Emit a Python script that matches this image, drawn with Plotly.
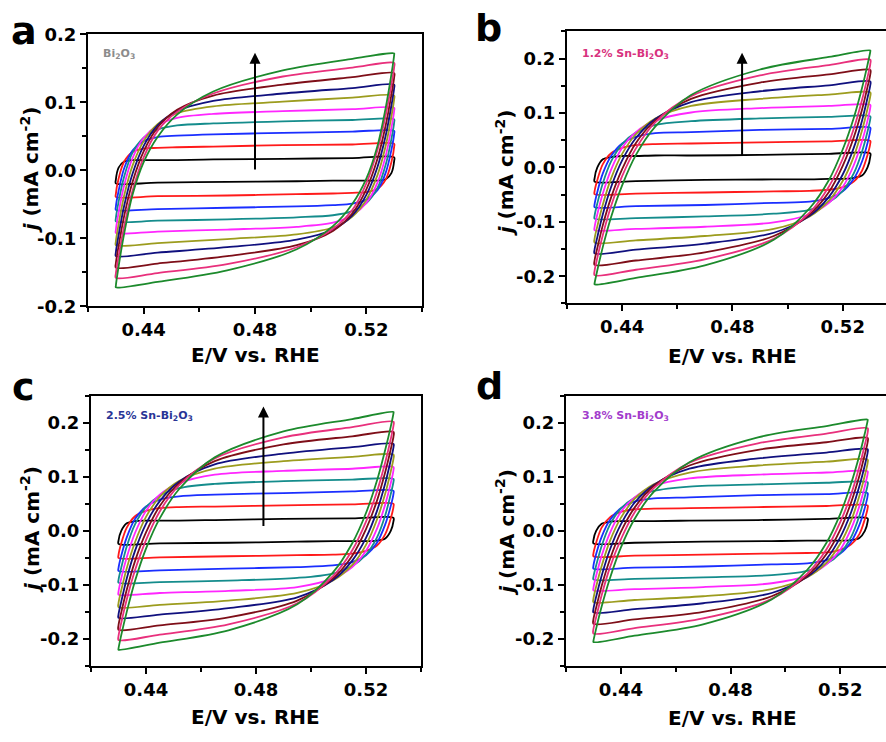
import plotly.graph_objects as go

# ---------------- data ----------------
X_FWD = [0.430, 0.431, 0.433, 0.436, 0.440, 0.445, 0.452, 0.465, 0.490, 0.515, 0.530]
X_REV = [0.530, 0.529, 0.527, 0.524, 0.520, 0.515, 0.508, 0.495, 0.470, 0.445, 0.430]

COLORS = ["#000000", "#ff1a1a", "#1a2eff", "#148c8c", "#ff26ff",
          "#9c9c1e", "#10107e", "#7e0e18", "#e8307c", "#1c8a2c"]

# panel a: Bi2O3  (forward = anodic sweep, reverse = cathodic sweep)
A_FWD = [
    [-0.014, 0.004, 0.013, 0.015, 0.015, 0.015, 0.015, 0.016, 0.017, 0.018, 0.019],
    [-0.035, -0.012, 0.013, 0.027, 0.032, 0.033, 0.034, 0.035, 0.037, 0.038, 0.039],
    [-0.054, -0.030, 0.003, 0.029, 0.043, 0.049, 0.051, 0.053, 0.055, 0.057, 0.058],
    [-0.071, -0.046, -0.009, 0.026, 0.048, 0.060, 0.066, 0.069, 0.072, 0.074, 0.075],
    [-0.088, -0.062, -0.022, 0.018, 0.048, 0.066, 0.077, 0.083, 0.087, 0.090, 0.092],
    [-0.105, -0.079, -0.037, 0.007, 0.043, 0.068, 0.084, 0.094, 0.101, 0.107, 0.110],
    [-0.121, -0.095, -0.052, -0.005, 0.036, 0.066, 0.087, 0.102, 0.113, 0.121, 0.126],
    [-0.137, -0.111, -0.067, -0.017, 0.028, 0.063, 0.089, 0.110, 0.126, 0.137, 0.143],
    [-0.152, -0.126, -0.082, -0.030, 0.019, 0.058, 0.086, 0.113, 0.138, 0.151, 0.158],
    [-0.170, -0.141, -0.093, -0.036, 0.012, 0.049, 0.082, 0.116, 0.147, 0.164, 0.172],
]
A_REV = [
    [0.014, -0.004, -0.013, -0.015, -0.015, -0.015, -0.015, -0.016, -0.017, -0.018, -0.019],
    [0.035, 0.012, -0.013, -0.027, -0.032, -0.033, -0.034, -0.035, -0.037, -0.038, -0.039],
    [0.054, 0.030, -0.003, -0.029, -0.043, -0.049, -0.051, -0.053, -0.055, -0.057, -0.058],
    [0.071, 0.046, 0.009, -0.026, -0.048, -0.060, -0.066, -0.069, -0.072, -0.074, -0.075],
    [0.088, 0.062, 0.022, -0.018, -0.048, -0.066, -0.077, -0.083, -0.087, -0.090, -0.092],
    [0.105, 0.079, 0.037, -0.007, -0.043, -0.068, -0.084, -0.094, -0.101, -0.107, -0.110],
    [0.121, 0.095, 0.052, 0.005, -0.036, -0.066, -0.087, -0.102, -0.113, -0.121, -0.126],
    [0.137, 0.111, 0.067, 0.017, -0.028, -0.063, -0.089, -0.110, -0.126, -0.137, -0.143],
    [0.152, 0.126, 0.082, 0.030, -0.019, -0.058, -0.086, -0.113, -0.138, -0.151, -0.158],
    [0.170, 0.141, 0.093, 0.036, -0.012, -0.049, -0.082, -0.116, -0.147, -0.164, -0.172],
]

# panel b: 1.2% Sn-Bi2O3
B_FWD = [
    [-0.020, 0.000, 0.015, 0.019, 0.021, 0.021, 0.022, 0.022, 0.023, 0.025, 0.026],
    [-0.044, -0.023, 0.006, 0.026, 0.036, 0.041, 0.043, 0.044, 0.046, 0.048, 0.049],
    [-0.068, -0.045, -0.011, 0.021, 0.044, 0.056, 0.063, 0.065, 0.069, 0.071, 0.073],
    [-0.089, -0.066, -0.029, 0.011, 0.043, 0.064, 0.078, 0.085, 0.090, 0.093, 0.094],
    [-0.110, -0.086, -0.048, -0.004, 0.036, 0.065, 0.086, 0.101, 0.109, 0.113, 0.115],
    [-0.131, -0.108, -0.068, -0.020, 0.025, 0.061, 0.090, 0.113, 0.126, 0.134, 0.138],
    [-0.151, -0.128, -0.086, -0.036, 0.013, 0.054, 0.089, 0.120, 0.140, 0.151, 0.158],
    [-0.171, -0.148, -0.106, -0.055, -0.003, 0.045, 0.086, 0.126, 0.156, 0.171, 0.179],
    [-0.190, -0.166, -0.124, -0.071, -0.016, 0.035, 0.083, 0.131, 0.169, 0.188, 0.198],
    [-0.213, -0.189, -0.146, -0.091, -0.033, 0.023, 0.075, 0.133, 0.180, 0.203, 0.215],
]
B_REV = [
    [0.020, 0.000, -0.015, -0.019, -0.021, -0.021, -0.022, -0.022, -0.023, -0.025, -0.026],
    [0.044, 0.023, -0.006, -0.026, -0.036, -0.041, -0.043, -0.044, -0.046, -0.048, -0.049],
    [0.068, 0.045, 0.011, -0.021, -0.044, -0.056, -0.063, -0.065, -0.069, -0.071, -0.073],
    [0.089, 0.066, 0.029, -0.011, -0.043, -0.064, -0.078, -0.085, -0.090, -0.093, -0.094],
    [0.110, 0.086, 0.048, 0.004, -0.036, -0.065, -0.086, -0.101, -0.109, -0.113, -0.115],
    [0.131, 0.108, 0.068, 0.020, -0.025, -0.061, -0.090, -0.113, -0.126, -0.134, -0.138],
    [0.151, 0.128, 0.086, 0.036, -0.013, -0.054, -0.089, -0.120, -0.140, -0.151, -0.158],
    [0.171, 0.148, 0.106, 0.055, 0.003, -0.045, -0.086, -0.126, -0.156, -0.171, -0.179],
    [0.190, 0.166, 0.124, 0.071, 0.016, -0.035, -0.083, -0.131, -0.169, -0.188, -0.198],
    [0.213, 0.189, 0.146, 0.091, 0.033, -0.023, -0.075, -0.133, -0.180, -0.203, -0.215],
]

# panel c: 2.5% Sn-Bi2O3
C_FWD = [
    [-0.018, 0.000, 0.014, 0.018, 0.019, 0.019, 0.019, 0.020, 0.022, 0.023, 0.024],
    [-0.045, -0.023, 0.006, 0.027, 0.037, 0.042, 0.044, 0.045, 0.047, 0.049, 0.050],
    [-0.069, -0.046, -0.012, 0.022, 0.045, 0.058, 0.064, 0.067, 0.070, 0.073, 0.074],
    [-0.091, -0.068, -0.029, 0.012, 0.044, 0.065, 0.079, 0.087, 0.092, 0.095, 0.096],
    [-0.113, -0.088, -0.049, -0.004, 0.037, 0.067, 0.088, 0.104, 0.111, 0.115, 0.118],
    [-0.134, -0.110, -0.069, -0.021, 0.026, 0.063, 0.092, 0.115, 0.129, 0.137, 0.141],
    [-0.155, -0.131, -0.088, -0.037, 0.013, 0.055, 0.091, 0.123, 0.143, 0.155, 0.161],
    [-0.175, -0.151, -0.109, -0.056, -0.003, 0.046, 0.088, 0.129, 0.160, 0.175, 0.183],
    [-0.195, -0.170, -0.127, -0.073, -0.017, 0.036, 0.084, 0.134, 0.173, 0.192, 0.202],
    [-0.218, -0.193, -0.150, -0.093, -0.033, 0.023, 0.077, 0.136, 0.184, 0.207, 0.220],
]
C_REV = [
    [0.018, 0.000, -0.014, -0.018, -0.019, -0.019, -0.019, -0.020, -0.022, -0.023, -0.024],
    [0.045, 0.023, -0.006, -0.027, -0.037, -0.042, -0.044, -0.045, -0.047, -0.049, -0.050],
    [0.069, 0.046, 0.012, -0.022, -0.045, -0.058, -0.064, -0.067, -0.070, -0.073, -0.074],
    [0.091, 0.068, 0.029, -0.012, -0.044, -0.065, -0.079, -0.087, -0.092, -0.095, -0.096],
    [0.113, 0.088, 0.049, 0.004, -0.037, -0.067, -0.088, -0.104, -0.111, -0.115, -0.118],
    [0.134, 0.110, 0.069, 0.021, -0.026, -0.063, -0.092, -0.115, -0.129, -0.137, -0.141],
    [0.155, 0.131, 0.088, 0.037, -0.013, -0.055, -0.091, -0.123, -0.143, -0.155, -0.161],
    [0.175, 0.151, 0.109, 0.056, 0.003, -0.046, -0.088, -0.129, -0.160, -0.175, -0.183],
    [0.195, 0.170, 0.127, 0.073, 0.017, -0.036, -0.084, -0.134, -0.173, -0.192, -0.202],
    [0.218, 0.193, 0.150, 0.093, 0.033, -0.023, -0.077, -0.136, -0.184, -0.207, -0.220],
]

# panel d: 3.8% Sn-Bi2O3
D_FWD = [
    [-0.017, 0.000, 0.013, 0.017, 0.018, 0.018, 0.018, 0.019, 0.020, 0.022, 0.023],
    [-0.042, -0.022, 0.006, 0.025, 0.035, 0.040, 0.041, 0.042, 0.044, 0.046, 0.047],
    [-0.065, -0.043, -0.011, 0.020, 0.042, 0.054, 0.060, 0.062, 0.066, 0.068, 0.070],
    [-0.085, -0.064, -0.028, 0.011, 0.041, 0.061, 0.074, 0.082, 0.086, 0.089, 0.090],
    [-0.106, -0.083, -0.046, -0.004, 0.035, 0.062, 0.083, 0.097, 0.104, 0.108, 0.110],
    [-0.126, -0.103, -0.065, -0.019, 0.024, 0.059, 0.086, 0.108, 0.121, 0.128, 0.132],
    [-0.145, -0.122, -0.083, -0.035, 0.012, 0.052, 0.085, 0.115, 0.134, 0.145, 0.151],
    [-0.164, -0.142, -0.102, -0.053, -0.002, 0.043, 0.083, 0.121, 0.150, 0.164, 0.172],
    [-0.182, -0.160, -0.119, -0.068, -0.016, 0.034, 0.079, 0.126, 0.162, 0.180, 0.190],
    [-0.204, -0.181, -0.140, -0.088, -0.031, 0.022, 0.072, 0.127, 0.173, 0.194, 0.206],
]
D_REV = [
    [0.017, 0.000, -0.013, -0.017, -0.018, -0.018, -0.018, -0.019, -0.020, -0.022, -0.023],
    [0.042, 0.022, -0.006, -0.025, -0.035, -0.040, -0.041, -0.042, -0.044, -0.046, -0.047],
    [0.065, 0.043, 0.011, -0.020, -0.042, -0.054, -0.060, -0.062, -0.066, -0.068, -0.070],
    [0.085, 0.064, 0.028, -0.011, -0.041, -0.061, -0.074, -0.082, -0.086, -0.089, -0.090],
    [0.106, 0.083, 0.046, 0.004, -0.035, -0.062, -0.083, -0.097, -0.104, -0.108, -0.110],
    [0.126, 0.103, 0.065, 0.019, -0.024, -0.059, -0.086, -0.108, -0.121, -0.128, -0.132],
    [0.145, 0.122, 0.083, 0.035, -0.012, -0.052, -0.085, -0.115, -0.134, -0.145, -0.151],
    [0.164, 0.142, 0.102, 0.053, 0.002, -0.043, -0.083, -0.121, -0.150, -0.164, -0.172],
    [0.182, 0.160, 0.119, 0.068, 0.016, -0.034, -0.079, -0.126, -0.162, -0.180, -0.190],
    [0.204, 0.181, 0.140, 0.088, 0.031, -0.022, -0.072, -0.127, -0.173, -0.194, -0.206],
]

PANEL_LETTERS = ["a", "b", "c", "d"]
SAMPLES = ["Bi<sub>2</sub>O<sub>3</sub>",
           "1.2% Sn-Bi<sub>2</sub>O<sub>3</sub>",
           "2.5% Sn-Bi<sub>2</sub>O<sub>3</sub>",
           "3.8% Sn-Bi<sub>2</sub>O<sub>3</sub>"]
SAMPLE_COLORS = ["#8c8c8c", "#d8327e", "#283496", "#a23ccc"]

X_TICKS = [0.44, 0.48, 0.52]
X_TICK_TEXT = ["0.44", "0.48", "0.52"]
X_MINOR = [0.42, 0.46, 0.50, 0.54]
Y_TICKS = [-0.2, -0.1, 0.0, 0.1, 0.2]
Y_TICK_TEXT = ["-0.2", "-0.1", "0.0", "0.1", "0.2"]
Y_MINOR = [-0.25, -0.15, -0.05, 0.05, 0.15, 0.25]

# arrows (panels a, b, c): x, start, end
ARROW_X = [0.480, 0.4835, 0.4827]
ARROW_Y0 = [-0.001, 0.020, 0.006]
ARROW_Y1 = [0.173, 0.211, 0.230]

X_TITLE = "E/V vs. RHE"
Y_TITLE = "<i>j</i> (mA cm<sup>-2</sup>)"

# ---------------- layout geometry (pixels) ----------------
W, H = 886, 742
FONT = "DejaVu Sans, Arial, sans-serif"

PANELS = [
    dict(px=(88, 422), py=(24, 304), xr=[0.42, 0.54], yr=[-0.2, 0.2], full=True),
    dict(px=(567, 886), py=(21, 301), xr=[0.42, 0.5357], yr=[-0.25, 0.25], full=False),
    dict(px=(91, 421), py=(396, 674), xr=[0.42, 0.54], yr=[-0.25, 0.25], full=True),
    dict(px=(566, 886), py=(396, 674), xr=[0.42, 0.5367], yr=[-0.25, 0.25], full=False),
]
LETTER_POS = [(24, 21), (488, 17), (23, 387), (489, 386)]
SAMPLE_POS = [(101, 44), (580, 44), (104, 417), (580, 417)]
XTITLE_POS = [(255, 354), (732, 355), (256, 727), (732, 728)]
YTITLE_POS = [(30, 164), (505, 166), (30, 534), (505, 536)]

DATA = [(A_FWD, A_REV), (B_FWD, B_REV), (C_FWD, C_REV), (D_FWD, D_REV)]

fig = go.Figure()
layout = dict(width=W, height=H, margin=dict(l=0, r=0, t=0, b=0),
              paper_bgcolor="white", plot_bgcolor="white", showlegend=False)

tickfont = dict(family=FONT, size=18, color="black", weight="bold")
annotations = []

for i, p in enumerate(PANELS):
    n = "" if i == 0 else str(i + 1)
    xname, yname = "x" + n, "y" + n
    fwd, rev = DATA[i]
    for k in range(len(fwd)):
        fig.add_trace(go.Scatter(
            x=X_FWD + X_REV + [X_FWD[0]],
            y=fwd[k] + rev[k] + [fwd[k][0]],
            mode="lines",
            line=dict(color=COLORS[k], width=1.8, shape="spline", smoothing=0.9),
            xaxis=xname, yaxis=yname, hoverinfo="skip"))

    xd = [p["px"][0] / W, p["px"][1] / W]
    yd = [1 - p["py"][1] / H, 1 - p["py"][0] / H]
    layout["xaxis" + n] = dict(
        domain=xd, range=p["xr"], anchor=yname, showgrid=False, zeroline=False,
        showline=True, linecolor="black", linewidth=2, mirror=True,
        ticks="outside", ticklen=6, tickwidth=2, tickcolor="black",
        tickvals=X_TICKS, ticktext=X_TICK_TEXT, tickfont=tickfont,
        minor=dict(tickvals=X_MINOR, ticks="outside", ticklen=4, tickwidth=2,
                   tickcolor="black"))
    layout["yaxis" + n] = dict(
        domain=yd, range=p["yr"], anchor=xname, showgrid=False, zeroline=False,
        showline=True, linecolor="black", linewidth=2, mirror=p["full"],
        ticks="outside", ticklen=6, tickwidth=2, tickcolor="black",
        tickvals=Y_TICKS, ticktext=Y_TICK_TEXT, tickfont=tickfont,
        minor=dict(tickvals=Y_MINOR, ticks="outside", ticklen=4, tickwidth=2,
                   tickcolor="black"))

    lx, ly = LETTER_POS[i]
    annotations.append(dict(text=PANEL_LETTERS[i], x=lx / W, y=1 - ly / H,
                            xref="paper", yref="paper", showarrow=False,
                            xanchor="center", yanchor="middle",
                            font=dict(family=FONT, size=38, color="black", weight="bold")))
    sx, sy = SAMPLE_POS[i]
    annotations.append(dict(text=SAMPLES[i], x=sx / W, y=1 - sy / H,
                            xref="paper", yref="paper", showarrow=False,
                            xanchor="left", yanchor="middle",
                            font=dict(family=FONT, size=11, color=SAMPLE_COLORS[i], weight="bold")))
    tx, ty = XTITLE_POS[i]
    annotations.append(dict(text=X_TITLE, x=tx / W, y=1 - ty / H,
                            xref="paper", yref="paper", showarrow=False,
                            xanchor="center", yanchor="middle",
                            font=dict(family=FONT, size=20, color="black", weight="bold")))
    vx, vy = YTITLE_POS[i]
    annotations.append(dict(text=Y_TITLE, x=vx / W, y=1 - vy / H, textangle=-90,
                            xref="paper", yref="paper", showarrow=False,
                            xanchor="center", yanchor="middle",
                            font=dict(family=FONT, size=20, color="black", weight="bold")))

for i in range(len(ARROW_X)):
    n = "" if i == 0 else str(i + 1)
    annotations.append(dict(x=ARROW_X[i], y=ARROW_Y1[i], ax=ARROW_X[i], ay=ARROW_Y0[i],
                            xref="x" + n, yref="y" + n, axref="x" + n, ayref="y" + n,
                            text="", showarrow=True, arrowhead=2, arrowsize=1.1,
                            arrowwidth=2, arrowcolor="black"))

layout["annotations"] = annotations
fig.update_layout(**layout)
fig.write_html("out.html")
